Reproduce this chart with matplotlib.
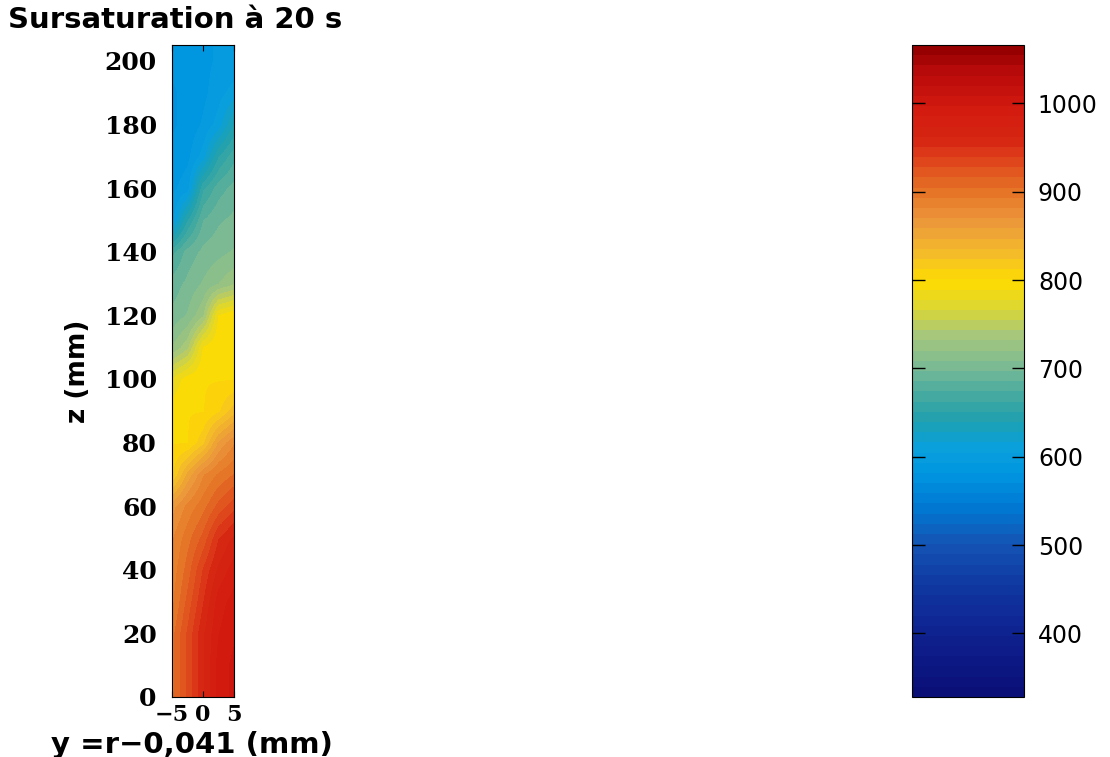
import numpy as np
import matplotlib
matplotlib.use("Agg")
import matplotlib.pyplot as plt
from matplotlib.colors import LinearSegmentedColormap, Normalize

# positions across the column (mm) and heights (mm) of the read values
y_cols = [-5, -2.5, 0, 2.5, 5]
z_rows = [0, 10, 20, 30, 40, 50, 60, 70, 80, 90, 100,
          110, 120, 130, 140, 150, 160, 170, 180, 190, 200]

# supersaturation, one row per height (bottom -> top)
sat = [
    [900, 930, 960, 990, 1000],
    [900, 930, 960, 990, 1000],
    [900, 930, 960, 985, 995],
    [890, 920, 950, 980, 990],
    [885, 910, 940, 965, 980],
    [880, 900, 920, 950, 965],
    [865, 885, 900, 920, 935],
    [810, 850, 880, 895, 905],
    [800, 800, 820, 860, 880],
    [795, 800, 800, 810, 830],
    [780, 795, 800, 800, 800],
    [720, 740, 790, 800, 800],
    [700, 710, 730, 790, 800],
    [690, 700, 710, 720, 730],
    [670, 690, 700, 705, 710],
    [600, 650, 685, 695, 700],
    [590, 600, 660, 680, 690],
    [585, 590, 610, 650, 670],
    [580, 585, 595, 610, 640],
    [580, 585, 590, 600, 610],
    [585, 585, 590, 595, 595],
]

cb_ticks = [400, 500, 600, 700, 800, 900, 1000]
vmin, vmax = 328, 1066

# colour scale as seen on the colour bar
cmap_vals = [328, 400, 450, 500, 540, 580, 610, 640, 670, 700, 740, 770,
             800, 830, 870, 900, 930, 960, 1000, 1040, 1066]
cmap_rgb = [(10, 15, 120), (15, 35, 145), (15, 55, 160), (20, 85, 180),
            (0, 120, 210), (0, 150, 225), (10, 160, 220), (30, 160, 175),
            (70, 170, 160), (120, 185, 150), (170, 200, 120), (220, 215, 50),
            (255, 220, 0), (245, 190, 40), (235, 150, 60), (230, 120, 40),
            (225, 80, 30), (215, 40, 20), (210, 25, 15), (185, 10, 10),
            (150, 0, 0)]
stops = [((v - vmin) / (vmax - vmin), tuple(c / 255 for c in rgb))
         for v, rgb in zip(cmap_vals, cmap_rgb)]
cmap = LinearSegmentedColormap.from_list("sursat", stops, N=64)
norm = Normalize(vmin=vmin, vmax=vmax)

fig = plt.figure(figsize=(11.1, 7.57), dpi=100)
W, H = 1110, 757

ax = fig.add_axes([172 / W, 60 / H, 62 / W, 652 / H])
dy = (y_cols[1] - y_cols[0]) / 2
dz = (z_rows[1] - z_rows[0]) / 2
im = ax.imshow(np.array(sat), cmap=cmap, norm=norm, origin="lower", aspect="auto",
               interpolation="bilinear", interpolation_stage="data",
               extent=(y_cols[0] - dy, y_cols[-1] + dy, z_rows[0] - dz, z_rows[-1] + dz))
ax.set_xlim(-5, 5)
ax.set_ylim(0, 205)
ax.set_xticks([-5, 0, 5])
ax.set_xticklabels(["\u22125", "0", "5"])
ax.set_yticks(range(0, 201, 20))
serif = matplotlib.font_manager.FontProperties(family="DejaVu Serif", weight="bold", size=18)
serif_x = matplotlib.font_manager.FontProperties(family="DejaVu Serif", weight="bold", size=16)
for lab in ax.get_yticklabels():
    lab.set_fontproperties(serif)
for lab in ax.get_xticklabels():
    lab.set_fontproperties(serif_x)
ax.tick_params(axis="x", direction="in", top=True, length=4, pad=5)
ax.tick_params(axis="y", length=0, pad=11)
for s in ax.spines.values():
    s.set_linewidth(0.8)

ax.set_ylabel("z (mm)", family="DejaVu Sans", weight="bold", fontsize=19)
ax.yaxis.set_label_coords(-1.3, 0.5)

fig.text(8 / W, 1 - 20 / H, "Sursaturation à 20 s", ha="left", va="center",
         fontsize=21, fontweight="bold", family="DejaVu Sans")
fig.text(192 / W, 1 - 745 / H, "y =r\u22120,041 (mm)", ha="center", va="center",
         fontsize=21, fontweight="bold", family="DejaVu Sans")

cax = fig.add_axes([912 / W, 60 / H, 112 / W, 652 / H])
cb = fig.colorbar(im, cax=cax, ticks=cb_ticks)
cb.outline.set_linewidth(0.8)
cax.tick_params(direction="in", left=True, right=True, length=9, width=1,
                pad=10, labelsize=17)

fig.savefig("out.png", dpi=100)
